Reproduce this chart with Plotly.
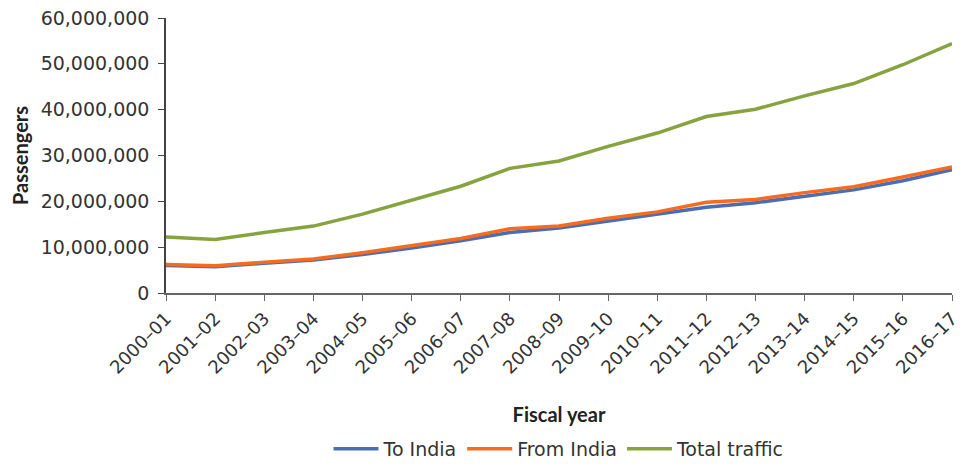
import plotly.graph_objects as go

years = ["2000–01", "2001–02", "2002–03", "2003–04", "2004–05", "2005–06", "2006–07",
         "2007–08", "2008–09", "2009–10", "2010–11", "2011–12", "2012–13", "2013–14",
         "2014–15", "2015–16", "2016–17"]
to_india = [6.0, 5.75, 6.5, 7.2, 8.4, 9.8, 11.4, 13.2, 14.2, 15.7, 17.2, 18.7, 19.7, 21.1, 22.5, 24.5, 26.9]
from_india = [6.2, 5.95, 6.7, 7.4, 8.8, 10.4, 11.9, 14.0, 14.6, 16.3, 17.7, 19.8, 20.4, 21.9, 23.2, 25.3, 27.5]
total = [12.2, 11.7, 13.2, 14.6, 17.2, 20.2, 23.3, 27.2, 28.8, 32.0, 34.9, 38.5, 40.1, 43.0, 45.7, 49.8, 54.4]
y_ticks = [0, 10_000_000, 20_000_000, 30_000_000, 40_000_000, 50_000_000, 60_000_000]

M = 1_000_000
FONT = "DejaVu Sans"
TITLE_FONT = "Lato"
fig = go.Figure()
fig.add_trace(go.Scatter(x=years, y=[v * M for v in to_india], mode="lines", name="To India",
                         line=dict(color="#4a6db3", width=3.5)))
fig.add_trace(go.Scatter(x=years, y=[v * M for v in from_india], mode="lines", name="From India",
                         line=dict(color="#f56b1f", width=3.5)))
fig.add_trace(go.Scatter(x=years, y=[v * M for v in total], mode="lines", name="Total traffic",
                         line=dict(color="#86a33f", width=3.5)))

fig.update_layout(
    width=965, height=472,
    margin=dict(l=158, r=21, t=10, b=187),
    paper_bgcolor="white", plot_bgcolor="white",
    font=dict(family=FONT, size=18, color="#333333"),
    showlegend=True,
    legend=dict(orientation="h", x=0.5, xanchor="center", y=-0.567, yanchor="middle",
                itemwidth=45,
                font=dict(family=FONT, size=19, color="#333333")),
    xaxis=dict(
        type="category", range=[0, 16], showgrid=False, zeroline=False, automargin=False,
        showline=True, linecolor="#666666", linewidth=2,
        ticks="outside", ticklen=6, tickcolor="#666666", tickangle=-45,
        ticklabeloverflow="allow",
        tickfont=dict(family=FONT, size=18),
        title=dict(text="<b>Fiscal year</b>", font=dict(family=TITLE_FONT, size=20, color="#222222"), standoff=31),
    ),
    yaxis=dict(
        range=[0, 60 * M], tickvals=y_ticks, tickformat=",d", showgrid=False, zeroline=False,
        automargin=False, ticklabeloverflow="allow",
        showline=True, linecolor="#444444", linewidth=1.5,
        ticks="outside", ticklen=6, tickcolor="#444444", ticklabelstandoff=5,
        tickfont=dict(family=FONT, size=19),
        title=dict(text="<b>Passengers</b>", font=dict(family=TITLE_FONT, size=20, color="#222222"), standoff=10),
    ),
)

fig.write_html("out.html")
